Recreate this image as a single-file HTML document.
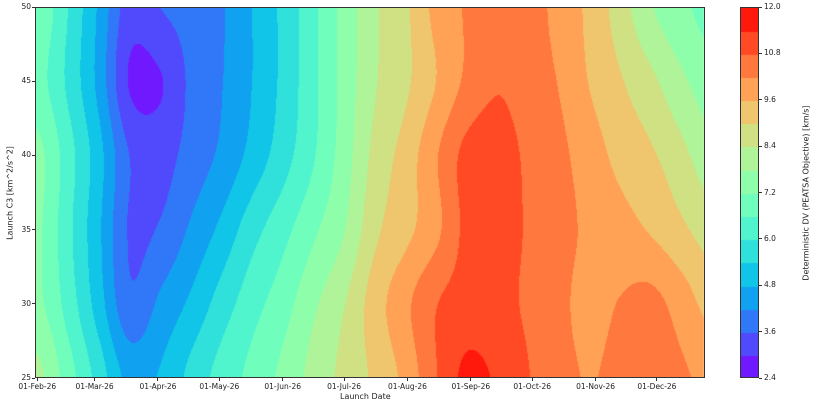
<!DOCTYPE html>
<html><head><meta charset="utf-8"><style>
body{margin:0;background:#fff;width:820px;height:400px;overflow:hidden;position:relative;font-family:"DejaVu Sans","Liberation Sans",sans-serif;}
.t{position:absolute;font-size:7.5px;color:#222;white-space:nowrap;}
</style></head><body>
<div style="position:absolute;left:0;top:0;width:820px;height:400px;">
<canvas id="plot" width="670" height="371" style="position:absolute;left:35px;top:7px;"></canvas>
<div style="position:absolute;left:35px;top:7px;width:670px;height:371px;border:1px solid #333;box-sizing:border-box;"></div>
<canvas id="cbar" width="19" height="371" style="position:absolute;left:740px;top:7px;"></canvas>
<div style="position:absolute;left:740px;top:7px;width:19px;height:371px;border:1px solid #333;box-sizing:border-box;"></div>
<div id="axes"></div>
<div class="t" style="left:340px;top:392px;font-size:8px;">Launch Date</div>
<div class="t" style="left:10px;top:193px;font-size:8px;transform:translate(-50%,-50%) rotate(-90deg);">Launch C3 [km^2/s^2]</div>
<div class="t" style="left:806px;top:193px;font-size:8px;transform:translate(-50%,-50%) rotate(-90deg);">Deterministic DV (PEATSA Objective) [km/s]</div>
</div>
<script>
const days = [0,15,30,45,60,75,90,105,120,135,150,165,180,195,210,225,240,255,270,285,300,315,330];
const c3Rows = [50,45,40,35,30,25];
const dv50 = [7.11,6.0,4.71,3.3,3.6,3.84,4.14,4.8,5.54,6.45,7.41,8.31,8.88,9.78,10.26,10.62,10.44,10.02,9.45,8.7,7.86,7.35,6.96];
const dv45 = [6.84,5.88,4.62,2.95,2.95,3.72,4.17,4.8,5.54,6.45,7.41,8.34,8.88,9.6,10.32,10.74,10.47,10.17,9.57,9.06,8.55,7.92,7.44];
const dv40 = [7.38,6.28,5.04,3.6,3.36,3.84,4.32,5.0,5.73,6.54,7.5,8.58,9.24,10.14,10.98,11.1,10.68,10.35,9.9,9.42,9.09,8.58,7.98];
const dv35 = [7.32,6.18,4.92,3.55,3.66,4.29,4.95,5.76,6.39,7.08,7.77,8.85,9.42,10.05,10.95,11.04,10.74,10.41,10.08,9.84,9.54,9.12,8.7];
const dv30 = [7.35,6.36,5.1,3.75,4.32,4.92,5.67,6.36,6.93,7.68,8.37,9.3,10.05,10.77,11.07,10.98,10.71,10.35,10.02,10.23,10.38,9.93,9.36];
const dv25 = [7.98,6.9,5.76,4.62,4.86,5.58,6.24,6.78,7.35,8.01,8.58,9.12,9.78,10.77,11.55,11.31,10.83,10.41,10.17,10.38,10.44,10.29,10.02];
const xTickDays = [0,28,59,89,120,150,181,212,242,273,303];
const xTickLabels = ["01-Feb-26","01-Mar-26","01-Apr-26","01-May-26","01-Jun-26","01-Jul-26","01-Aug-26","01-Sep-26","01-Oct-26","01-Nov-26","01-Dec-26"];
const yTicks = [25,30,35,40,45,50];
const levels = [2.4,3.0,3.6,4.2,4.8,5.4,6.0,6.6,7.2,7.8,8.4,9.0,9.6,10.2,10.8,11.4,12.0];
const cbTicks = [2.4,3.6,4.8,6.0,7.2,8.4,9.6,10.8,12.0];

const grid=[dv50,dv45,dv40,dv35,dv30,dv25];
const X0=35,Y0=7,W=670,H=371;
function xOf(d){return 37.3+2.045*d;}
function dOf(x){return (x-37.3)/2.045;}
function yOf(c){return 378-(c-25)*(371/25);}
function cOf(y){return 25+(378-y)*25/371;}
function rainbow(t){const r=Math.min(1,Math.abs(2*t-0.5)),g=Math.sin(Math.PI*t),b=Math.cos(Math.PI*t/2);return [Math.round(r*255),Math.round(g*255),Math.round(b*255)];}
const nb=levels.length-1;
const cols=[];for(let k=0;k<nb;k++)cols.push(rainbow((k+0.5)/nb));
function cr(p0,p1,p2,p3,t){return 0.5*((2*p1)+(-p0+p2)*t+(2*p0-5*p1+4*p2-p3)*t*t+(-p0+3*p1-3*p2+p3)*t*t*t);}
function rowAt(j,fi){const n=days.length;let i=Math.floor(fi);i=Math.max(0,Math.min(n-2,i));const t=fi-i;
 const g=grid[j];const a=g[Math.max(0,i-1)],b=g[i],c=g[i+1],d=g[Math.min(n-1,i+2)];return cr(a,b,c,d,t);}
function val(d,c){
  let fi=(d-days[0])/(days[1]-days[0]);fi=Math.max(0,Math.min(days.length-1,fi));
  let fr=(c3Rows[0]-c)/(c3Rows[0]-c3Rows[1]);fr=Math.max(0,Math.min(c3Rows.length-1,fr));
  const m=c3Rows.length;let j=Math.floor(fr);j=Math.max(0,Math.min(m-2,j));const t=fr-j;
  const r0=rowAt(Math.max(0,j-1),fi),r1=rowAt(j,fi),r2=rowAt(j+1,fi),r3=rowAt(Math.min(m-1,j+2),fi);
  return cr(r0,r1,r2,r3,t);
}
const ctx=document.getElementById('plot').getContext('2d');
const img=ctx.createImageData(W,H);
const dEnd=326;
for(let py=0;py<H;py++){const c=cOf(Y0+py+0.5);
 for(let px=0;px<W;px++){const d=dOf(X0+px+0.5);const o=(py*W+px)*4;
  if(d>dEnd){img.data[o]=255;img.data[o+1]=255;img.data[o+2]=255;img.data[o+3]=255;continue;}
  const v=val(d,c);let k=Math.floor((v-levels[0])/(levels[1]-levels[0]));k=Math.max(0,Math.min(nb-1,k));
  const col=cols[k];img.data[o]=col[0];img.data[o+1]=col[1];img.data[o+2]=col[2];img.data[o+3]=255;}}
ctx.putImageData(img,0,0);
const cb=document.getElementById('cbar').getContext('2d');
for(let k=0;k<nb;k++){const col=cols[k];cb.fillStyle=`rgb(${col[0]},${col[1]},${col[2]})`;
 const yt=(levels[nb]-levels[k+1])/(levels[nb]-levels[0])*H,yb=(levels[nb]-levels[k])/(levels[nb]-levels[0])*H;
 cb.fillRect(0,Math.floor(yt),19,Math.ceil(yb-yt)+1);}
const ax=document.getElementById('axes');
xTickDays.forEach((d,i)=>{const x=xOf(d);
 const tk=document.createElement('div');tk.style.cssText=`position:absolute;left:${x-0.5}px;top:378px;width:1px;height:3px;background:#333`;
 
 ax.appendChild(tk);
 const l=document.createElement('div');l.className='t';l.textContent=xTickLabels[i];l.style.left=x+'px';l.style.top='382px';l.style.transform='translateX(-50%)';
 
 ax.appendChild(l);});
yTicks.forEach(v=>{const y=yOf(v);
 const tk=document.createElement('div');tk.style.cssText=`position:absolute;left:32px;top:${y-0.5}px;width:3px;height:1px;background:#333`;
 
 ax.appendChild(tk);
 const l=document.createElement('div');l.className='t';l.textContent=v;l.style.right=(820-31)+'px';l.style.top=(y-5)+'px';
 
 ax.appendChild(l);});
cbTicks.forEach(v=>{const y=7+(levels[nb]-v)/(levels[nb]-levels[0])*H;
 const tk=document.createElement('div');tk.style.cssText=`position:absolute;left:759px;top:${y-0.5}px;width:3px;height:1px;background:#333`;
 
 ax.appendChild(tk);
 const l=document.createElement('div');l.className='t';l.textContent=v.toFixed(1);l.style.left='764px';l.style.top=(y-5)+'px';
 
 ax.appendChild(l);});
</script>
</body></html>
